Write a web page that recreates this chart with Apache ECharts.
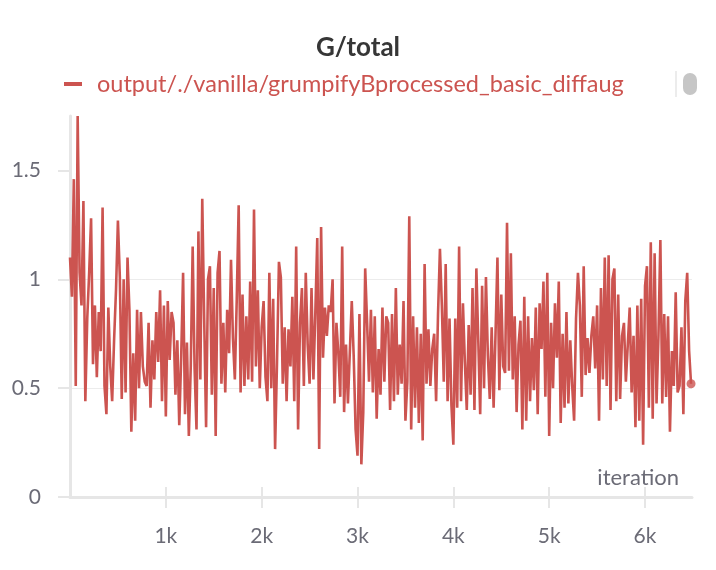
<!DOCTYPE html>
<html lang="en">
<head>
  <meta charset="UTF-8">
  <title>G/total</title>
  <style>
html, body {
  margin: 0;
  padding: 0;
  width: 100%;
  height: 100%;
  background: #fff;
}

.main {
  width: 716px;
  height: 570px;
}
  </style>
</head>
<body>
<div class="main" id="main"></div>
<script src="https://cdn.jsdelivr.net/npm/echarts@6/dist/echarts.min.js"></script>
<script>
var step = 20;
var runName = 'output/./vanilla/grumpifyBprocessed_basic_diffaug';
var xTicks = [1000, 2000, 3000, 4000, 5000, 6000];
var yTicks = [0, 0.5, 1, 1.5];
var gTotal = [
  1.10, 0.92, 1.46, 0.51, 1.75, 1.03, 0.88, 1.36, 0.44, 0.82,
  1.03, 1.28, 0.61, 0.88, 0.55, 0.85, 0.67, 1.33, 0.51, 0.38,
  0.87, 0.60, 0.44, 0.72, 0.95, 1.27, 1.01, 0.45, 1.00, 0.48,
  1.10, 0.86, 0.30, 0.66, 0.35, 0.86, 0.50, 0.85, 0.60, 0.53,
  0.51, 0.80, 0.41, 0.72, 0.54, 0.85, 0.62, 0.95, 0.44, 0.88,
  0.37, 0.90, 0.63, 0.85, 0.80, 0.47, 0.72, 0.33, 0.64, 1.03,
  0.38, 0.71, 0.28, 0.60, 1.15, 0.59, 0.31, 1.22, 0.54, 1.37,
  0.82, 0.32, 1.00, 1.06, 0.47, 0.96, 0.28, 1.03, 1.13, 0.52,
  0.80, 0.48, 0.86, 0.66, 1.09, 0.73, 0.54, 0.91, 1.34, 0.48,
  0.93, 0.51, 0.83, 0.54, 0.99, 0.53, 1.32, 0.60, 0.95, 0.50,
  0.78, 0.90, 0.55, 0.44, 1.03, 0.50, 0.91, 0.22, 0.62, 1.08,
  1.01, 0.52, 0.78, 0.44, 0.77, 0.60, 0.92, 0.44, 1.15, 0.31,
  0.80, 0.96, 0.51, 1.03, 0.70, 0.52, 0.96, 0.54, 0.85, 1.19,
  0.22, 1.24, 0.64, 0.87, 0.74, 0.88, 0.85, 1.00, 0.43, 0.80,
  0.66, 0.46, 1.15, 0.39, 0.70, 0.43, 0.67, 0.90, 0.65, 0.31,
  0.19, 0.84, 0.15, 0.39, 1.05, 0.80, 0.53, 0.86, 0.48, 0.83,
  0.36, 0.68, 0.47, 0.87, 0.53, 0.83, 0.80, 0.40, 0.84, 0.44,
  0.96, 0.47, 0.70, 0.52, 0.90, 0.35, 0.53, 1.29, 0.31, 0.83,
  0.41, 0.78, 0.34, 0.75, 0.26, 1.07, 0.52, 0.77, 0.51, 0.68,
  0.75, 0.44, 0.84, 1.14, 0.88, 0.53, 1.07, 0.44, 0.82, 0.42,
  0.24, 0.82, 0.41, 1.15, 0.44, 0.89, 0.62, 0.40, 0.79, 0.47,
  0.96, 0.40, 1.05, 0.72, 0.38, 0.97, 0.50, 1.01, 0.65, 0.45,
  0.78, 0.41, 0.75, 1.10, 0.49, 0.93, 0.60, 0.57, 1.26, 0.58,
  1.12, 0.54, 0.83, 0.39, 0.70, 0.81, 0.31, 0.92, 0.35, 0.83,
  0.44, 0.73, 0.49, 0.87, 0.38, 0.89, 0.68, 0.99, 0.46, 1.03,
  0.28, 0.80, 0.50, 0.89, 0.64, 0.99, 0.34, 0.75, 0.41, 0.85,
  0.43, 0.72, 0.51, 0.35, 0.82, 1.03, 0.88, 0.46, 1.06, 0.56,
  0.73, 0.57, 0.74, 0.83, 0.59, 0.88, 0.35, 0.96, 0.54, 1.10,
  0.51, 1.11, 0.40, 1.00, 1.05, 0.44, 0.93, 0.45, 0.74, 0.80,
  0.53, 0.70, 0.87, 0.48, 0.74, 0.32, 0.88, 0.35, 0.91, 0.24,
  0.97, 1.06, 0.41, 1.17, 0.36, 1.12, 0.43, 0.74, 1.18, 0.43,
  0.84, 0.46, 0.83, 0.30, 0.67, 0.51, 0.94, 0.48, 0.51, 0.78,
  0.38, 0.90, 1.03, 0.67, 0.52
];

var red = '#cc5450';
var grey = '#6b6b76';
var axisGrey = '#e6e6e6';
var font = 'Lato';

var lineData = gTotal.map(function(v, i) { return [i * step, v]; });
var lastPoint = lineData[lineData.length - 1];
var xMax = lastPoint[0] + 10;

var myChart = echarts.init(document.getElementById('main'));

var option = {
  animation: false,
  textStyle: { fontFamily: font },
  title: {
    text: 'G/total',
    left: 'center',
    top: 30,
    textStyle: { fontSize: 26, fontWeight: 'bold', color: '#363636', fontFamily: font }
  },
  legend: {
    data: [runName],
    left: 64,
    top: 72,
    padding: 0,
    icon: 'rect',
    itemWidth: 18,
    itemHeight: 4,
    textStyle: { fontSize: 23.5, color: red, fontFamily: font, padding: [0, 0, 0, 10] }
  },
  grid: { left: 70, right: 24, top: 116, bottom: 73 },
  xAxis: [{
    type: 'value',
    min: 0,
    max: xMax,
    name: 'iteration',
    nameLocation: 'end',
    nameGap: -13,
    nameTextStyle: { color: grey, fontSize: 22, align: 'right', verticalAlign: 'bottom', padding: [0, 0, 8, 0] },
    axisLine: { show: true, onZero: false, lineStyle: { color: axisGrey, width: 3 } },
    axisTick: { show: true, length: 11, customValues: xTicks, lineStyle: { color: axisGrey, width: 2 } },
    axisLabel: {
      customValues: xTicks, margin: 29, fontSize: 21, color: grey,
      formatter: function(v) { return (v / 1000) + 'k'; }
    },
    splitLine: { show: false }
  }, {
    type: 'value',
    min: 0,
    max: xMax,
    position: 'bottom',
    axisLine: { show: false },
    axisTick: { show: true, inside: true, length: 10, customValues: xTicks, lineStyle: { color: axisGrey, width: 2 } },
    axisLabel: { show: false },
    splitLine: { show: false }
  }],
  yAxis: {
    type: 'value',
    min: 0,
    max: 1.75,
    axisLine: { show: true, lineStyle: { color: axisGrey, width: 3 } },
    axisTick: { show: true, length: 12, customValues: yTicks, lineStyle: { color: axisGrey, width: 2 } },
    axisLabel: { customValues: yTicks, margin: 29, fontSize: 21, color: grey },
    splitLine: { show: true, showMinLine: false, showMaxLine: false, lineStyle: { color: '#ececec', width: 1 } }
  },
  graphic: [
    { type: 'rect', shape: { x: 675, y: 71, width: 2, height: 26 }, style: { fill: '#ececec' } },
    { type: 'rect', shape: { x: 683, y: 73, width: 14, height: 22, r: 7 }, style: { fill: '#c6c6c6' } }
  ],
  series: [{
    name: runName,
    type: 'line',
    data: lineData,
    showSymbol: false,
    lineStyle: { color: red, width: 2.6 },
    itemStyle: { color: red }
  }, {
    type: 'scatter',
    data: [lastPoint],
    symbolSize: 9,
    itemStyle: { color: red }
  }]
};

myChart.setOption(option);
</script>
</body>
</html>
